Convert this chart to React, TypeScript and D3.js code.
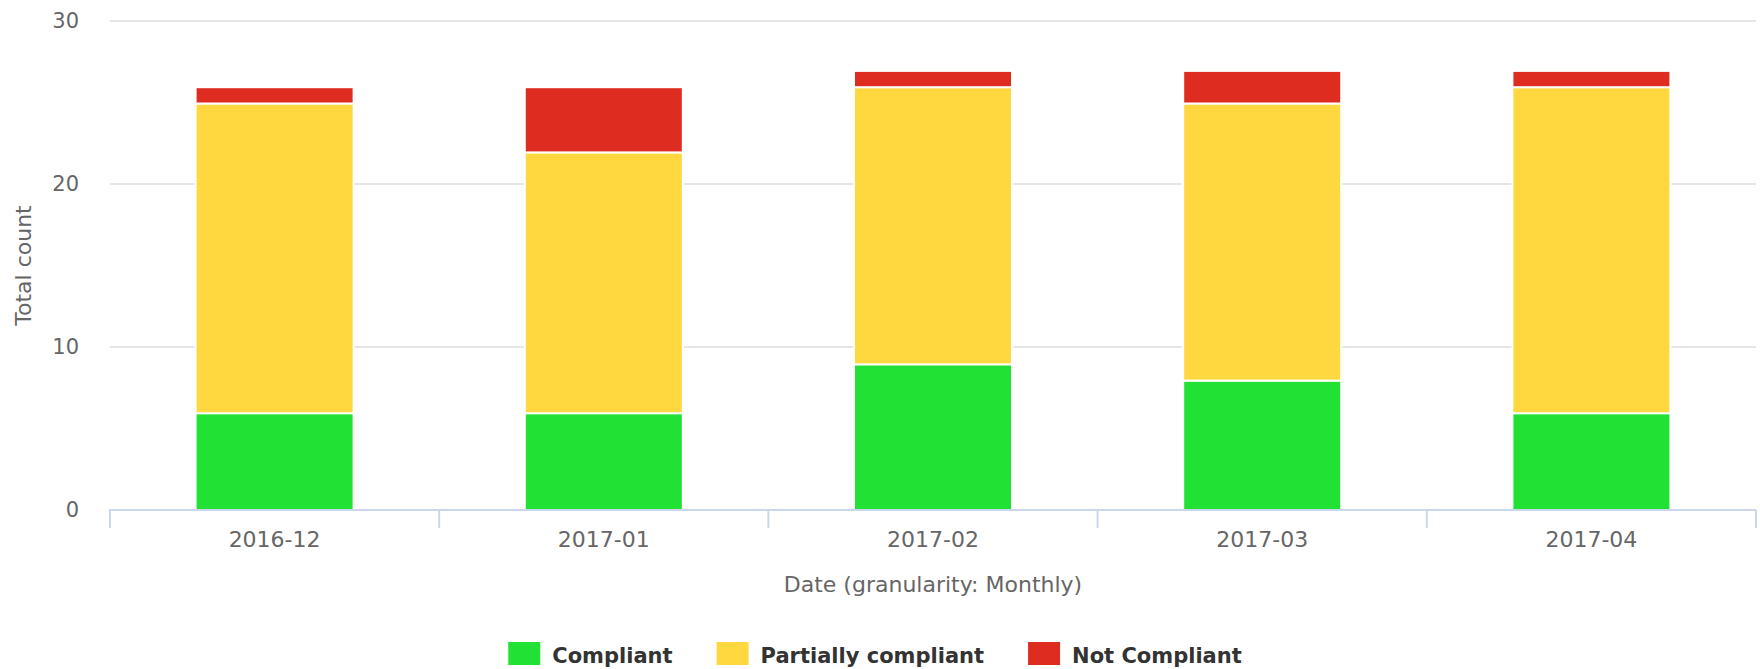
import React, { useEffect, useRef } from 'react';
import * as d3 from 'd3';

const months = ['2016-12', '2017-01', '2017-02', '2017-03', '2017-04'];
const compliant = [6, 6, 9, 8, 6];
const partiallyCompliant = [19, 16, 17, 17, 20];
const notCompliant = [1, 4, 1, 2, 1];
const seriesNames = ['Compliant', 'Partially compliant', 'Not Compliant'];
const seriesColors = ['#21e134', '#fed83e', '#df2c21'];
const yTicks = [0, 10, 20, 30];

const FONT = '"DejaVu Sans", Verdana, sans-serif';

const App = () => {
  const chartContainer = useRef<SVGSVGElement>(null);

  useEffect(() => {
    if (chartContainer.current) {
      drawChart();
    }
  }, []);

  const drawChart = () => {
    const width = 1760,
      height = 669,
      left = 110,
      right = 1756,
      top = 21,
      bottom = 510;

    const svg = d3.select(chartContainer.current);
    svg.selectAll('*').remove();

    const rows = months.map((m, i) => ({
      month: m,
      [seriesNames[0]]: compliant[i],
      [seriesNames[1]]: partiallyCompliant[i],
      [seriesNames[2]]: notCompliant[i],
    }));

    const x = d3.scaleBand().domain(months).range([left, right]).paddingInner(0.52).paddingOuter(0.26);
    const y = d3.scaleLinear().domain([0, 30]).range([bottom, top]);
    const color = d3.scaleOrdinal<string, string>().domain(seriesNames).range(seriesColors);

    // grid lines
    svg
      .append('g')
      .selectAll('line')
      .data(yTicks.filter((t) => t > 0))
      .join('line')
      .attr('x1', left)
      .attr('x2', right)
      .attr('y1', (d) => y(d))
      .attr('y2', (d) => y(d))
      .attr('stroke', '#e6e6e6')
      .attr('stroke-width', 2);

    // y tick labels
    svg
      .append('g')
      .selectAll('text')
      .data(yTicks)
      .join('text')
      .attr('x', 79)
      .attr('y', (d) => y(d) + 7)
      .attr('text-anchor', 'end')
      .style('font-family', FONT)
      .style('font-size', '21px')
      .style('fill', '#666666')
      .text((d) => d);

    // y title
    svg
      .append('text')
      .attr('transform', 'translate(31,' + (top + bottom) / 2 + ')rotate(-90)')
      .attr('text-anchor', 'middle')
      .style('font-family', FONT)
      .style('font-size', '22px')
      .style('fill', '#666666')
      .text('Total count');

    // stacked bars
    const stacked = d3.stack<any>().keys(seriesNames)(rows);
    svg
      .append('g')
      .selectAll('g')
      .data(stacked)
      .join('g')
      .attr('fill', (s) => color(s.key))
      .selectAll('rect')
      .data((s) => s)
      .join('rect')
      .attr('x', (d) => x(d.data.month)!)
      .attr('width', x.bandwidth())
      .attr('y', (d) => y(d[1]) + 1)
      .attr('height', (d) => y(d[0]) - y(d[1]))
      .attr('stroke', '#ffffff')
      .attr('stroke-width', 2);

    // x axis line and ticks
    svg
      .append('line')
      .attr('x1', left - 1)
      .attr('x2', right)
      .attr('y1', bottom)
      .attr('y2', bottom)
      .attr('stroke', '#ccd6eb')
      .attr('stroke-width', 2);

    const edges = months.map((m) => x(m)! - (x.step() - x.bandwidth()) / 2).concat([right]);
    svg
      .append('g')
      .selectAll('line')
      .data(edges)
      .join('line')
      .attr('x1', (d) => d)
      .attr('x2', (d) => d)
      .attr('y1', bottom)
      .attr('y2', bottom + 18)
      .attr('stroke', '#ccd6eb')
      .attr('stroke-width', 2);

    svg
      .append('g')
      .selectAll('text')
      .data(months)
      .join('text')
      .attr('x', (d) => x(d)! + x.bandwidth() / 2)
      .attr('y', 547)
      .attr('text-anchor', 'middle')
      .style('font-family', FONT)
      .style('font-size', '22px')
      .style('fill', '#666666')
      .text((d) => d);

    svg
      .append('text')
      .attr('x', (left + right) / 2)
      .attr('y', 592)
      .attr('text-anchor', 'middle')
      .style('font-family', FONT)
      .style('font-size', '22px')
      .style('fill', '#666666')
      .text('Date (granularity: Monthly)');

    // legend
    const legend = svg.append('g');
    let cursor = 0;
    seriesNames.forEach((name) => {
      legend
        .append('rect')
        .attr('x', cursor)
        .attr('y', 642)
        .attr('width', 32)
        .attr('height', 23)
        .style('fill', color(name));
      const t = legend
        .append('text')
        .attr('x', cursor + 44)
        .attr('y', 663)
        .style('font-family', FONT)
        .style('font-size', '21px')
        .style('font-weight', 'bold')
        .style('fill', '#333333')
        .text(name);
      cursor += 44 + (t.node() as SVGTextElement).getComputedTextLength() + 44;
    });
    const legendWidth = cursor - 44;
    legend.attr('transform', 'translate(' + (875 - legendWidth / 2) + ',0)');

    svg.attr('width', width).attr('height', height);
  };

  return (
    <svg
      ref={chartContainer}
      width={1760}
      height={669}
      style={{ position: 'absolute', left: 0, top: 0, background: '#ffffff' }}
    />
  );
};

export default App;
